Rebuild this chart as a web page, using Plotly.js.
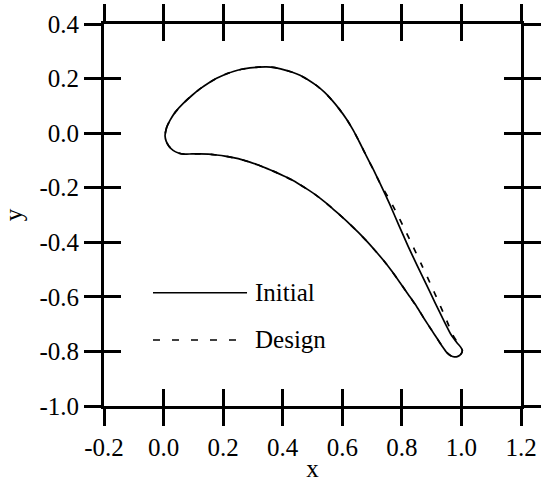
<!DOCTYPE html>
<html>
<head>
<meta charset="utf-8">
<script src="https://cdn.plot.ly/plotly-3.0.1.min.js"></script>
<style>html,body{margin:0;padding:0;background:#fff;}#chart{width:542px;height:482px;}</style>
</head>
<body>
<div id="chart"></div>
<script>
// Blade profile coordinates
const initialX = [0.005,0.010,0.022,0.040,0.066,0.095,0.122,0.150,0.178,0.206,0.234,0.262,0.290,0.318,0.346,0.374,0.402,0.430,0.458,0.486,0.514,0.540,0.566,0.590,0.615,0.637,0.660,0.682,0.705,0.726,0.760,0.790,0.820,0.850,0.880,0.910,0.940,0.965,0.985,0.998,1.003,0.998,0.988,0.976,0.963,0.950,0.936,0.918,0.900,0.875,0.850,0.822,0.794,0.766,0.738,0.710,0.682,0.654,0.626,0.598,0.570,0.542,0.514,0.486,0.458,0.430,0.402,0.374,0.346,0.318,0.290,0.262,0.234,0.206,0.178,0.150,0.122,0.095,0.070,0.050,0.032,0.018,0.009,0.005];
const initialY = [-0.010,0.020,0.048,0.078,0.109,0.138,0.162,0.183,0.201,0.215,0.226,0.234,0.239,0.242,0.243,0.240,0.233,0.224,0.212,0.195,0.174,0.150,0.120,0.088,0.050,0.010,-0.038,-0.086,-0.135,-0.182,-0.262,-0.338,-0.412,-0.482,-0.550,-0.618,-0.685,-0.738,-0.768,-0.785,-0.797,-0.810,-0.818,-0.820,-0.815,-0.803,-0.782,-0.752,-0.722,-0.680,-0.636,-0.592,-0.548,-0.505,-0.466,-0.430,-0.396,-0.364,-0.334,-0.306,-0.279,-0.253,-0.229,-0.208,-0.189,-0.171,-0.156,-0.142,-0.129,-0.117,-0.106,-0.097,-0.090,-0.084,-0.080,-0.077,-0.076,-0.076,-0.077,-0.073,-0.063,-0.048,-0.030,-0.010];
const designX = [0.005,0.010,0.022,0.040,0.066,0.095,0.122,0.150,0.178,0.206,0.234,0.262,0.290,0.318,0.346,0.374,0.402,0.430,0.458,0.486,0.514,0.540,0.566,0.590,0.615,0.637,0.660,0.682,0.705,0.726,0.768,0.803,0.836,0.866,0.895,0.923,0.950,0.970,0.987,0.998,1.003,0.998,0.988,0.976,0.963,0.950,0.936,0.918,0.900,0.875,0.850,0.822,0.794,0.766,0.738,0.710,0.682,0.654,0.626,0.598,0.570,0.542,0.514,0.486,0.458,0.430,0.402,0.374,0.346,0.318,0.290,0.262,0.234,0.206,0.178,0.150,0.122,0.095,0.070,0.050,0.032,0.018,0.009,0.005];
const designY = [-0.010,0.020,0.048,0.078,0.109,0.138,0.162,0.183,0.201,0.215,0.226,0.234,0.239,0.242,0.243,0.240,0.233,0.224,0.212,0.195,0.174,0.150,0.120,0.088,0.050,0.010,-0.038,-0.086,-0.135,-0.182,-0.262,-0.338,-0.412,-0.482,-0.550,-0.618,-0.685,-0.738,-0.768,-0.785,-0.797,-0.810,-0.818,-0.820,-0.815,-0.803,-0.782,-0.752,-0.722,-0.680,-0.636,-0.592,-0.548,-0.505,-0.466,-0.430,-0.396,-0.364,-0.334,-0.306,-0.279,-0.253,-0.229,-0.208,-0.189,-0.171,-0.156,-0.142,-0.129,-0.117,-0.106,-0.097,-0.090,-0.084,-0.080,-0.077,-0.076,-0.076,-0.077,-0.073,-0.063,-0.048,-0.030,-0.010];

const xTickVals = [-0.2,0.0,0.2,0.4,0.6,0.8,1.0,1.2];
const xTickText = ["-0.2","0.0","0.2","0.4","0.6","0.8","1.0","1.2"];
const yTickVals = [-1.0,-0.8,-0.6,-0.4,-0.2,0.0,0.2,0.4];
const yTickText = ["-1.0","-0.8","-0.6","-0.4","-0.2","0.0","0.2","0.4"];
const seriesNames = ["Initial","Design"];

const FONT = "Liberation Serif";
const FS = 25;

const traces = [
  {x: initialX, y: initialY, mode: "lines", name: seriesNames[0],
   line: {color: "#000", width: 1.7, dash: "solid", shape: "spline", smoothing: 0.6},
   xaxis: "x", yaxis: "y", showlegend: false, hoverinfo: "skip"},
  {x: designX, y: designY, mode: "lines", name: seriesNames[1],
   line: {color: "#000", width: 1.7, dash: "6px,10px", shape: "spline", smoothing: 0.6},
   xaxis: "x2", yaxis: "y2", showlegend: false, hoverinfo: "skip"}
];

const axBase = {
  showgrid: false, zeroline: false, showline: true, linecolor: "#000", linewidth: 3,
  ticklen: 17, tickwidth: 3, tickcolor: "#000", mirror: "ticks"
};

const layout = {
  width: 542, height: 482,
  margin: {l: 104, r: 21, t: 24, b: 76},
  paper_bgcolor: "#fff", plot_bgcolor: "#fff",
  font: {family: FONT, size: FS, color: "#000"},
  showlegend: false,
  xaxis: Object.assign({}, axBase, {
    range: [-0.2, 1.2], ticks: "outside", tickvals: xTickVals, ticktext: xTickText,
    tickfont: {family: FONT, size: FS, color: "#000"}, ticklabelstandoff: 0,
    title: {text: "x", font: {family: FONT, size: FS, color: "#000"}, standoff: 0},
    automargin: false
  }),
  yaxis: Object.assign({}, axBase, {
    range: [-1.0, 0.4], ticks: "outside", tickvals: yTickVals, ticktext: yTickText,
    tickfont: {family: FONT, size: FS, color: "#000"},
    title: {text: "y", font: {family: FONT, size: FS, color: "#000"}, standoff: 16},
    automargin: false
  }),
  xaxis2: Object.assign({}, axBase, {
    overlaying: "x", matches: "x", anchor: "y2", range: [-0.2, 1.2], ticks: "inside",
    tickvals: xTickVals, showticklabels: false
  }),
  yaxis2: Object.assign({}, axBase, {
    overlaying: "y", matches: "y", anchor: "x2", range: [-1.0, 0.4], ticks: "inside",
    tickvals: yTickVals, showticklabels: false
  }),
  shapes: [
    {type: "line", xref: "paper", yref: "paper", x0: 0.1175, x1: 0.343, y0: 0.2966, y1: 0.2966,
     line: {color: "#000", width: 1.6}},
    {type: "line", xref: "paper", yref: "paper", x0: 0.1175, x1: 0.343, y0: 0.1728, y1: 0.1728,
     line: {color: "#000", width: 1.6, dash: "7px,12px"}}
  ],
  annotations: [
    {xref: "paper", yref: "paper", x: 0.357, y: 0.2966, xanchor: "left", yanchor: "middle",
     text: seriesNames[0], showarrow: false, font: {family: FONT, size: FS, color: "#000"}},
    {xref: "paper", yref: "paper", x: 0.357, y: 0.1728, xanchor: "left", yanchor: "middle",
     text: seriesNames[1], showarrow: false, font: {family: FONT, size: FS, color: "#000"}}
  ]
};

Plotly.newPlot("chart", traces, layout, {staticPlot: true, displayModeBar: false});
</script>
</body>
</html>
